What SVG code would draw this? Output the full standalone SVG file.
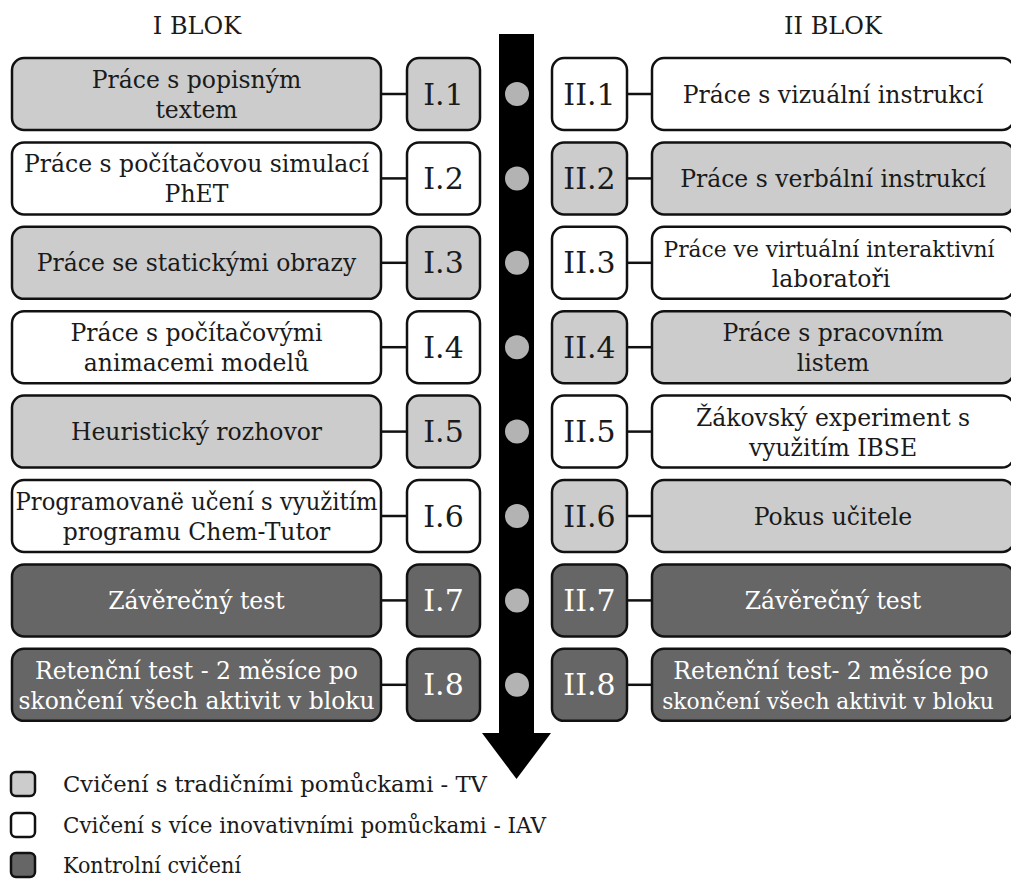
<svg xmlns="http://www.w3.org/2000/svg" width="1011" height="892" viewBox="0 0 1011 892">
<style>
text{font-family:"DejaVu Serif","Liberation Serif",serif;fill:#1a1a1a}
.b{stroke:#111;stroke-width:2.5}
.lt{fill:#cccccc}.wh{fill:#ffffff}.dk{fill:#666666}
.t{font-size:23.5px;text-anchor:middle}
.s{font-size:21.8px}
.n{font-size:30px;text-anchor:middle}
.w{fill:#ffffff}
.h{font-size:24px;text-anchor:middle}
.lg{font-size:22.8px}
.c{stroke:#111;stroke-width:2.5}
.dot{fill:#b3b3b3}
</style>
<text class="h" x="197" y="34">I BLOK</text>
<text class="h" x="833" y="34">II BLOK</text>
<g id="arrow">
<rect x="499" y="34" width="35" height="700" fill="#000"/>
<polygon points="482,733 551,733 516.5,779" fill="#000"/>
<circle class="dot" cx="517" cy="94" r="12"/>
<circle class="dot" cx="517" cy="178.4" r="12"/>
<circle class="dot" cx="517" cy="262.8" r="12"/>
<circle class="dot" cx="517" cy="347.2" r="12"/>
<circle class="dot" cx="517" cy="431.6" r="12"/>
<circle class="dot" cx="517" cy="516" r="12"/>
<circle class="dot" cx="517" cy="600.4" r="12"/>
<circle class="dot" cx="517" cy="684.8" r="12"/>
</g>
<g id="connectors">
<line class="c" x1="381" y1="94" x2="407" y2="94"/>
<line class="c" x1="381" y1="178.4" x2="407" y2="178.4"/>
<line class="c" x1="381" y1="262.8" x2="407" y2="262.8"/>
<line class="c" x1="381" y1="347.2" x2="407" y2="347.2"/>
<line class="c" x1="381" y1="431.6" x2="407" y2="431.6"/>
<line class="c" x1="381" y1="516" x2="407" y2="516"/>
<line class="c" x1="381" y1="600.4" x2="407" y2="600.4"/>
<line class="c" x1="381" y1="684.8" x2="407" y2="684.8"/>
<line class="c" x1="627" y1="94" x2="652" y2="94"/>
<line class="c" x1="627" y1="178.4" x2="652" y2="178.4"/>
<line class="c" x1="627" y1="262.8" x2="652" y2="262.8"/>
<line class="c" x1="627" y1="347.2" x2="652" y2="347.2"/>
<line class="c" x1="627" y1="431.6" x2="652" y2="431.6"/>
<line class="c" x1="627" y1="516" x2="652" y2="516"/>
<line class="c" x1="627" y1="600.4" x2="652" y2="600.4"/>
<line class="c" x1="627" y1="684.8" x2="652" y2="684.8"/>
</g>
<g id="L1"><rect class="b lt" x="12" y="58" width="369" height="72" rx="12"/><text class="t" x="196.5" y="88">Práce s popisným</text><text class="t" x="196.5" y="118">textem</text></g>
<g id="L2"><rect class="b wh" x="12" y="142.4" width="369" height="72" rx="12"/><text class="t" x="196.5" y="172.4">Práce s počítačovou simulací</text><text class="t" x="196.5" y="202.4">PhET</text></g>
<g id="L3"><rect class="b lt" x="12" y="226.8" width="369" height="72" rx="12"/><text class="t" x="196.5" y="271.3">Práce se statickými obrazy</text></g>
<g id="L4"><rect class="b wh" x="12" y="311.2" width="369" height="72" rx="12"/><text class="t" x="196.5" y="341.2">Práce s počítačovými</text><text class="t" x="196.5" y="371.2">animacemi modelů</text></g>
<g id="L5"><rect class="b lt" x="12" y="395.6" width="369" height="72" rx="12"/><text class="t" x="196.5" y="440.1">Heuristický rozhovor</text></g>
<g id="L6"><rect class="b wh" x="12" y="480" width="369" height="72" rx="12"/><text class="t" x="196.5" y="510" textLength="362" lengthAdjust="spacingAndGlyphs">Programovanë učení s využitím</text><text class="t" x="196.5" y="540">programu Chem-Tutor</text></g>
<g id="L7"><rect class="b dk" x="12" y="564.4" width="369" height="72" rx="12"/><text class="t w" x="196.5" y="608.9">Závěrečný test</text></g>
<g id="L8"><rect class="b dk" x="12" y="648.8" width="369" height="72" rx="12"/><text class="t w" x="196.5" y="678.8">Retenční test - 2 měsíce po</text><text class="t w" x="196.5" y="708.8" textLength="356" lengthAdjust="spacingAndGlyphs">skončení všech aktivit v bloku</text></g>
<g id="I1"><rect class="b lt" x="407" y="58" width="73" height="72" rx="12"/><text class="n" x="443.5" y="104.5">I.1</text></g>
<g id="I2"><rect class="b wh" x="407" y="142.4" width="73" height="72" rx="12"/><text class="n" x="443.5" y="188.9">I.2</text></g>
<g id="I3"><rect class="b lt" x="407" y="226.8" width="73" height="72" rx="12"/><text class="n" x="443.5" y="273.3">I.3</text></g>
<g id="I4"><rect class="b wh" x="407" y="311.2" width="73" height="72" rx="12"/><text class="n" x="443.5" y="357.7">I.4</text></g>
<g id="I5"><rect class="b lt" x="407" y="395.6" width="73" height="72" rx="12"/><text class="n" x="443.5" y="442.1">I.5</text></g>
<g id="I6"><rect class="b wh" x="407" y="480" width="73" height="72" rx="12"/><text class="n" x="443.5" y="526.5">I.6</text></g>
<g id="I7"><rect class="b dk" x="407" y="564.4" width="73" height="72" rx="12"/><text class="n w" x="443.5" y="610.9">I.7</text></g>
<g id="I8"><rect class="b dk" x="407" y="648.8" width="73" height="72" rx="12"/><text class="n w" x="443.5" y="695.3">I.8</text></g>
<g id="II1"><rect class="b wh" x="552" y="58" width="75" height="72" rx="12"/><text class="n" x="589.5" y="104.5">II.1</text></g>
<g id="II2"><rect class="b lt" x="552" y="142.4" width="75" height="72" rx="12"/><text class="n" x="589.5" y="188.9">II.2</text></g>
<g id="II3"><rect class="b wh" x="552" y="226.8" width="75" height="72" rx="12"/><text class="n" x="589.5" y="273.3">II.3</text></g>
<g id="II4"><rect class="b lt" x="552" y="311.2" width="75" height="72" rx="12"/><text class="n" x="589.5" y="357.7">II.4</text></g>
<g id="II5"><rect class="b wh" x="552" y="395.6" width="75" height="72" rx="12"/><text class="n" x="589.5" y="442.1">II.5</text></g>
<g id="II6"><rect class="b lt" x="552" y="480" width="75" height="72" rx="12"/><text class="n" x="589.5" y="526.5">II.6</text></g>
<g id="II7"><rect class="b dk" x="552" y="564.4" width="75" height="72" rx="12"/><text class="n w" x="589.5" y="610.9">II.7</text></g>
<g id="II8"><rect class="b dk" x="552" y="648.8" width="75" height="72" rx="12"/><text class="n w" x="589.5" y="695.3">II.8</text></g>
<g id="R1"><rect class="b wh" x="652" y="58" width="362" height="72" rx="12"/><text class="t" x="833" y="102.5">Práce s vizuální instrukcí</text></g>
<g id="R2"><rect class="b lt" x="652" y="142.4" width="362" height="72" rx="12"/><text class="t" x="833" y="186.9">Práce s verbální instrukcí</text></g>
<g id="R3"><rect class="b wh" x="652" y="226.8" width="362" height="72" rx="12"/><text class="t s" x="829" y="256.8">Práce ve virtuální interaktivní</text><text class="t" x="831" y="286.8">laboratoři</text></g>
<g id="R4"><rect class="b lt" x="652" y="311.2" width="362" height="72" rx="12"/><text class="t" x="833" y="341.2">Práce s pracovním</text><text class="t" x="833" y="371.2">listem</text></g>
<g id="R5"><rect class="b wh" x="652" y="395.6" width="362" height="72" rx="12"/><text class="t" x="833" y="425.6">Žákovský experiment s</text><text class="t" x="833" y="455.6">využitím IBSE</text></g>
<g id="R6"><rect class="b lt" x="652" y="480" width="362" height="72" rx="12"/><text class="t" x="833" y="524.5">Pokus učitele</text></g>
<g id="R7"><rect class="b dk" x="652" y="564.4" width="362" height="72" rx="12"/><text class="t w" x="833" y="608.9">Závěrečný test</text></g>
<g id="R8"><rect class="b dk" x="652" y="648.8" width="362" height="72" rx="12"/><text class="t w" x="831" y="678.8">Retenční test- 2 měsíce po</text><text class="t w s" x="828" y="708.8">skončení všech aktivit v bloku</text></g>
<g id="legend">
<rect class="b lt" x="11" y="772" width="24" height="24" rx="5"/>
<text class="lg" x="63" y="792" textLength="424" lengthAdjust="spacingAndGlyphs">Cvičení s tradičními pomůckami - TV</text>
<rect class="b wh" x="11" y="813" width="24" height="24" rx="5"/>
<text class="lg" x="63" y="833" textLength="483" lengthAdjust="spacingAndGlyphs">Cvičení s více inovativními pomůckami - IAV</text>
<rect class="b dk" x="11" y="853" width="24" height="24" rx="5"/>
<text class="lg" x="63" y="873" textLength="178" lengthAdjust="spacingAndGlyphs">Kontrolní cvičení</text>
</g>
</svg>
